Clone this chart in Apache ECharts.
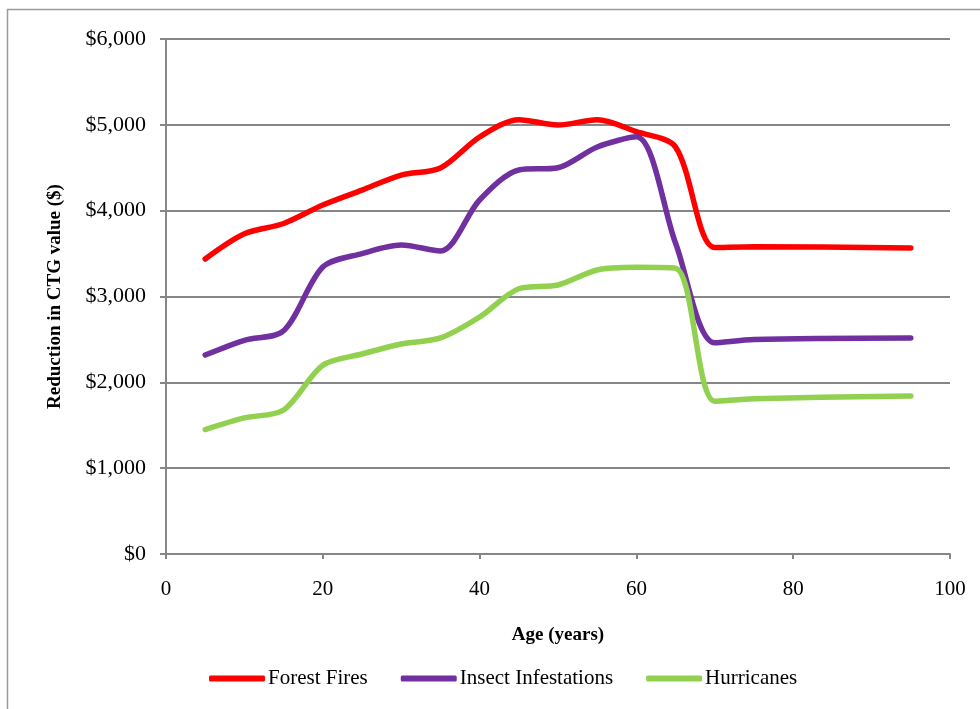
<!DOCTYPE html>
<html>
<head>
<meta charset="utf-8">
<script src="https://cdn.jsdelivr.net/npm/echarts@6/dist/echarts.min.js"></script>
<style>html,body{margin:0;padding:0;background:#fff;}#c{width:980px;height:709px;}</style>
</head>
<body>
<div id="c"></div>
<script>
const ages = [5, 10, 15, 20, 25, 30, 35, 40, 45, 50, 55, 60, 65, 70, 75, 95];
const forestFires = [3437, 3730, 3850, 4066, 4240, 4415, 4497, 4858, 5060, 4998, 5060, 4920, 4740, 3570, 3580, 3565];
const insectInfestations = [2318, 2490, 2600, 3344, 3500, 3600, 3530, 4124, 4474, 4500, 4742, 4860, 3620, 2460, 2500, 2517];
const hurricanes = [1450, 1585, 1678, 2200, 2330, 2447, 2517, 2761, 3090, 3134, 3309, 3340, 3330, 1780, 1810, 1841];
const seriesNames = ['Forest Fires', 'Insect Infestations', 'Hurricanes'];
const seriesColors = ['#ff0000', '#7030a0', '#92d050'];
const xTicks = [0, 20, 40, 60, 80, 100];

const allValues = [forestFires, insectInfestations, hurricanes];
const chart = echarts.init(document.getElementById('c'));
const font = '"Liberation Serif", "Times New Roman", serif';
chart.setOption({
  animation: false,
  backgroundColor: '#fff',
  graphic: [{
    type: 'rect', shape: {x: 7.5, y: 9.5, width: 1100, height: 1100},
    style: {fill: 'none', stroke: '#9a9a9a', lineWidth: 1.5}, silent: true
  }],
  grid: {left: 166, right: 30, top: 39, bottom: 155},
  legend: {
    bottom: 15, left: 204,
    itemWidth: 56, itemHeight: 6, itemGap: 33,
    icon: 'roundRect',
    textStyle: {fontFamily: font, fontSize: 21, color: '#000', padding: [0, 0, 0, -2]},
    data: seriesNames
  },
  xAxis: {
    type: 'value', min: xTicks[0], max: xTicks[xTicks.length - 1], interval: 20,
    name: 'Age (years)', nameLocation: 'middle', nameGap: 72,
    nameTextStyle: {fontFamily: font, fontSize: 19, fontWeight: 'bold', color: '#000'},
    axisLine: {lineStyle: {color: '#868686', width: 2}},
    axisTick: {show: true, length: 5, lineStyle: {color: '#868686', width: 2}},
    axisLabel: {fontFamily: font, fontSize: 21, color: '#000', margin: 25},
    splitLine: {show: false}
  },
  yAxis: {
    type: 'value', min: 0, max: 6000, interval: 1000,
    name: 'Reduction in CTG value ($)', nameLocation: 'middle', nameGap: 101,
    nameTextStyle: {fontFamily: font, fontSize: 19, fontWeight: 'bold', color: '#000'},
    axisLine: {show: true, lineStyle: {color: '#868686', width: 2}},
    axisTick: {show: true, length: 6, lineStyle: {color: '#868686', width: 2}},
    axisLabel: {fontFamily: font, fontSize: 22, color: '#000', margin: 20,
      formatter: v => '$' + v.toLocaleString('en-US')},
    splitLine: {show: true, lineStyle: {color: '#868686', width: 2}}
  },
  series: seriesNames.map((n, i) => ({
    name: n, type: 'line', smooth: 0.3, showSymbol: false, symbol: 'none',
    lineStyle: {color: seriesColors[i], width: 5.5, cap: 'round'},
    itemStyle: {color: seriesColors[i]},
    data: ages.map((a, j) => [a, allValues[i][j]])
  }))
});
</script>
</body>
</html>
